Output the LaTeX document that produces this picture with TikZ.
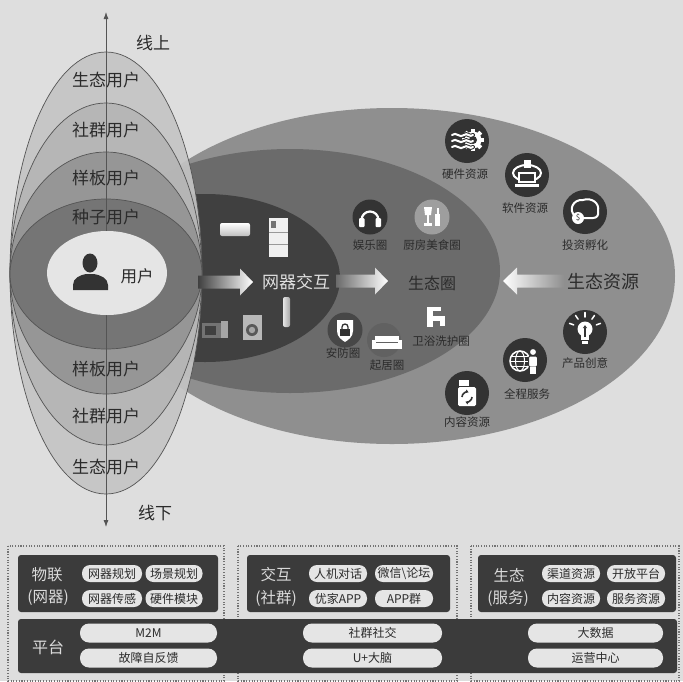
\documentclass[tikz,border=0pt]{standalone}
\usepackage{fontspec}
\setmainfont{Noto Sans CJK SC}
\usetikzlibrary{arrows.meta}
% grey palette
\definecolor{paper}{gray}{0.87}
\definecolor{ringA}{gray}{0.77}
\definecolor{ringB}{gray}{0.71}
\definecolor{ringC}{gray}{0.58}
\definecolor{ringD}{gray}{0.45}
\definecolor{userbg}{gray}{0.90}
\definecolor{resC}{gray}{0.56}
\definecolor{ecoC}{gray}{0.42}
\definecolor{netC}{gray}{0.25}
\definecolor{edge}{gray}{0.33}
\definecolor{ink}{gray}{0.17}
\definecolor{iconbg}{gray}{0.2}
\definecolor{panel}{gray}{0.23}
\definecolor{pillc}{gray}{0.9}
\definecolor{paneltxt}{gray}{0.86}
\definecolor{dotc}{gray}{0.45}

\begin{document}
\begin{tikzpicture}[x=1pt,y=-1pt,
  bigtxt/.style={font=\fontsize{17}{17}\selectfont, text=ink, inner sep=0pt},
  icotxt/.style={font=\fontsize{11.5}{12}\selectfont, text=ink, inner sep=0pt},
  ring/.style={draw=edge, line width=0.7pt, fill opacity=0.92},
  panelbox/.style={fill=panel, rounded corners=3pt},
  dotbox/.style={draw=dotc, line width=1.1pt, dash pattern=on 1.1pt off 1.6pt},
  pill/.style={fill=pillc, rounded corners=8pt, inner sep=0pt, minimum height=17pt,
    font=\fontsize{12}{12}\selectfont, text=ink},
  barpill/.style={pill, minimum height=19pt, rounded corners=9pt},
  paneltitle/.style={font=\fontsize{15.5}{16}\selectfont, text=paneltxt, inner sep=0pt},
  wave/.style={draw=iconbg, double=white, double distance=2pt, line width=1pt, line cap=round},
]
\useasboundingbox (0,0) rectangle (683,681);
\fill[paper] (0,0) rectangle (683,681);

% ---------- resource / ecosystem / device ellipses ----------
\fill[resC] (392,276) ellipse [x radius=283, y radius=168];
\fill[ecoC] (290,271) ellipse [x radius=210, y radius=122];
\fill[netC] (205,278) ellipse [x radius=135, y radius=84];

% ---------- user layers ----------
\filldraw[ring, fill=ringA] (106,273) ellipse [x radius=96, y radius=221];
\filldraw[ring, fill=ringB] (106,274) ellipse [x radius=96, y radius=171];
\filldraw[ring, fill=ringC] (106,273) ellipse [x radius=96, y radius=121];
\filldraw[ring, fill=ringD] (106,274) ellipse [x radius=96, y radius=75];

% online / offline axis
\coordinate (axTop) at (106,12);
\coordinate (axBot) at (106,527);
\draw[edge, line width=0.8pt, {Latex[length=7pt,width=5pt]}-{Latex[length=7pt,width=5pt]}] (axTop) -- (axBot);

% core user
\fill[userbg] (107,273) ellipse [x radius=60, y radius=42];
\fill[iconbg] (90,263) ellipse [x radius=7.5, y radius=9.5];
\fill[iconbg] (73,290) -- (73,285) .. controls (73,278) and (80,275) .. (86,274) -- (94,274)
  .. controls (100,275) and (108,278) .. (108,285) -- (108,290) -- cycle;

\node[bigtxt] (online)  at (153,43)  {线上};
\node[bigtxt] (offline) at (155,513) {线下};
\node[bigtxt] (u1) at (106,80)  {生态用户};
\node[bigtxt] (u2) at (106,130) {社群用户};
\node[bigtxt] (u3) at (106,178) {样板用户};
\node[bigtxt] (u4) at (106,217) {种子用户};
\node[bigtxt, font=\fontsize{16.5}{17}\selectfont] (user) at (137,276) {用户};
\node[bigtxt] (d3) at (106,369) {样板用户};
\node[bigtxt] (d2) at (106,416) {社群用户};
\node[bigtxt] (d1) at (106,467) {生态用户};

% ---------- appliances ----------
\shade[top color=white, bottom color=black!25, rounded corners=2pt] (220,223) rectangle (250,236);
\fill[black!6] (269,218) rectangle (288,257);
\draw[black!40, line width=0.5pt] (269,232) -- (288,232) (269,244) -- (288,244);
\fill[black!55] (271,221) rectangle (276,228);
\shade[left color=black!10, right color=black!35, rounded corners=2pt] (283,297) rectangle (290,327);
\fill[black!55] (202,323) rectangle (221,338);
\fill[black!35] (221,321) rectangle (228,338);
\fill[black!75] (205,326) rectangle (216,335);
\fill[black!28] (243,315) rectangle (262,340);
\fill[black!65] (252,330) circle (6);
\fill[black!35] (252,330) circle (3.2);

% ---------- flow arrows ----------
\shade[left color=netC, right color=white]
  (198,275.5) -- (240,275.5) -- (240,268.5) -- (253,282) -- (240,295.5) -- (240,288.5) -- (198,288.5) -- cycle;
\shade[left color=ecoC, right color=white]
  (336,274.5) -- (375,274.5) -- (375,267.5) -- (388,281) -- (375,294.5) -- (375,287.5) -- (336,287.5) -- cycle;
\shade[left color=white, right color=resC]
  (564,274.5) -- (517,274.5) -- (517,267.5) -- (503,281) -- (517,294.5) -- (517,287.5) -- (564,287.5) -- cycle;

\node[bigtxt, text=black!12] (net) at (296,282) {网器交互};
\node[bigtxt, font=\fontsize{16}{16}\selectfont] (eco) at (432,283) {生态圈};
\node[bigtxt, font=\fontsize{18}{18}\selectfont] (res) at (603,282) {生态资源};

% ---------- ecosystem circles ----------
% entertainment
\begin{scope}[shift={(370,217)}]
  \fill[iconbg] (0,0) circle (17.5);
  \draw[white, line width=2.2pt] (-8.5,3) arc[start angle=180, end angle=360, radius=8.5];
  \fill[white, rounded corners=1pt] (-11,1) rectangle (-5.5,10);
  \fill[white, rounded corners=1pt] (5.5,1) rectangle (11,10);
\end{scope}
\node[icotxt] (c1) at (370,245) {娱乐圈};
% kitchen
\begin{scope}[shift={(432,217)}]
  \fill[black!38] (0,0) circle (17.5);
  \fill[white] (-8,-10) -- (0,-10) -- (-1,-2) -- (-7,-2) -- cycle;
  \fill[white] (-4.8,-2) rectangle (-3.2,6);
  \fill[white] (-8,6) rectangle (0,8.5);
  \fill[white] (3,-3) rectangle (8,8.5);
  \fill[white] (4.5,-9) rectangle (6.5,-3);
\end{scope}
\node[icotxt] (c2) at (432,245) {厨房美食圈};
% bathroom
\fill[white] (427,307) rectangle (433,327);
\fill[white] (427,307) rectangle (441,311);
\fill[white] (433,316) rectangle (445,321);
\fill[white] (440,321) rectangle (445,326);
\node[icotxt] (c3) at (441,341) {卫浴洗护圈};
% security
\begin{scope}[shift={(345,330)}]
  \fill[black!72] (0,0) circle (17.5);
  \fill[white] (-8,-10) -- (8,-10) -- (8,1) .. controls (8,7) and (3,10) .. (0,12)
    .. controls (-3,10) and (-8,7) .. (-8,1) -- cycle;
  \draw[iconbg, line width=1.3pt] (-3,-1) -- (-3,-3) arc[start angle=180, end angle=360, radius=3] -- (3,-1);
  \fill[iconbg] (-5,-1) rectangle (5,6);
\end{scope}
\node[icotxt] (c4) at (343,353) {安防圈};
% living room
\fill[black!62] (384,340) circle (17);
\begin{scope}[shift={(387,342)}]
  \fill[white] (-12,-6) rectangle (12,0);
  \fill[white] (-15,-2) rectangle (-11,7);
  \fill[white] (11,-2) rectangle (15,7);
  \fill[white] (-11,1) rectangle (11,7);
\end{scope}
\node[icotxt] (c5) at (387,365) {起居圈};

% ---------- resource circles ----------
% hardware
\begin{scope}[shift={(467,141)}]
  \fill[iconbg] (0,0) circle (22);
  \begin{scope}[shift={(6,-1)}]
    \foreach \a in {0,45,...,315}{\fill[white, rotate=\a] (-2,-11) rectangle (2,-7);}
    \fill[white] (0,0) circle (8.5);
    \fill[iconbg] (0,0) circle (4);
  \end{scope}
  \foreach \dy in {-6,0,6}{
    \draw[wave] (-15,\dy) .. controls (-11,\dy-4) and (-7,\dy+4) .. (-3,\dy)
      .. controls (0,\dy-3) and (3,\dy+3) .. (6,\dy);}
\end{scope}
\node[icotxt] (r1) at (465,174) {硬件资源};
% software
\begin{scope}[shift={(527,175)}]
  \fill[iconbg] (0,0) circle (22);
  \draw[white, line width=2pt] (0,-2) ellipse [x radius=14, y radius=8];
  \fill[white] (-3.5,-15) rectangle (3.5,-7);
  \fill[white] (-9,-3) rectangle (9,8);
  \fill[iconbg] (-7,-1) rectangle (7,6);
  \fill[white] (-12,9) rectangle (12,12);
\end{scope}
\node[icotxt] (r2) at (525,208) {软件资源};
% investment
\begin{scope}[shift={(585,212)}]
  \fill[iconbg] (0,0) circle (22);
  \draw[white, line width=2pt, line join=round] (-10,4) .. controls (-17,-2) and (-12,-13) .. (-2,-12)
    .. controls (6,-15) and (15,-9) .. (13,-1) .. controls (14,3) and (12,6) .. (8,6) -- (-3,6);
  \fill[white] (-7,6) circle (6);
  \node[font=\fontsize{8}{8}\selectfont, text=iconbg, inner sep=0pt] (coin) at (-7,6) {\$};
\end{scope}
\node[icotxt] (r3) at (585,245) {投资孵化};
% ideas
\begin{scope}[shift={(585,332)}]
  \fill[iconbg] (0,0) circle (22);
  \foreach \a in {-160,-125,-90,-55,-20}{
    \draw[white, line width=1.5pt, line cap=round] ([shift={(0,-3)}]\a:12) -- ([shift={(0,-3)}]\a:16.5);}
  \fill[white] (0,-3) circle (7.5);
  \fill[white] (-4,2) rectangle (4,8);
  \fill[white] (-3,9) rectangle (3,11.5);
  \draw[iconbg, line width=1.5pt, -{Latex[length=3pt,width=4.5pt]}] (0,5) -- (0,-7);
\end{scope}
\node[icotxt] (r4) at (585,363) {产品创意};
% full service
\begin{scope}[shift={(525,360)}]
  \fill[iconbg] (0,0) circle (22);
  \draw[white, line width=1.5pt] (-5,1) circle (10);
  \draw[white, line width=1pt] (-5,1) ellipse [x radius=4.5, y radius=10];
  \draw[white, line width=1pt] (-15,1) -- (5,1) (-14,-4) -- (4,-4) (-14,6) -- (4,6);
  \filldraw[white, draw=iconbg, line width=1pt] (8,-8) circle (3.6);
  \filldraw[white, draw=iconbg, line width=1pt, rounded corners=1.5pt] (3.5,-4) rectangle (12.5,7);
  \fill[white] (5,7) rectangle (11,14);
\end{scope}
\node[icotxt] (r5) at (527,394) {全程服务};
% content
\begin{scope}[shift={(467,393)}]
  \fill[iconbg] (0,0) circle (22);
  \fill[white] (-8,-13) rectangle (2,-7);
  \fill[white, rounded corners=1.5pt] (-9,-6) rectangle (9,13);
  \draw[iconbg, line width=1.6pt, -{Latex[length=3pt,width=4pt]}] (-5,4) arc[start angle=180, end angle=290, radius=5];
  \draw[iconbg, line width=1.6pt, -{Latex[length=3pt,width=4pt]}] (5,4) arc[start angle=0, end angle=110, radius=5];
\end{scope}
\node[icotxt] (r6) at (467,422) {内容资源};

% ---------- layered platform panels ----------
\draw[dotbox] (8,546) rectangle (224,681);
\draw[dotbox] (238,546) rectangle (457,681);
\draw[dotbox] (471,546) rectangle (679,681);

\fill[panelbox] (18,555) rectangle (218,612);
\fill[panelbox] (247,555) rectangle (450,612);
\fill[panelbox] (478,555) rectangle (676,612);
\fill[panelbox] (18,619) rectangle (677,673);

\node[paneltitle] (iotA) at (47,575) {物联};
\node[paneltitle] (iotB) at (48,598) {(网器)};
\node[pill, minimum width=60pt] (p11) at (112,573.5) {网器规划};
\node[pill, minimum width=57pt] (p12) at (174,573.5) {场景规划};
\node[pill, minimum width=60pt] (p13) at (112,598.5) {网器传感};
\node[pill, minimum width=57pt] (p14) at (174,598.5) {硬件模块};

\node[paneltitle] (itA) at (276,575) {交互};
\node[paneltitle] (itB) at (276,598) {(社群)};
\node[pill, minimum width=58pt] (p21) at (338,573.5) {人机对话};
\node[pill, minimum width=58pt] (p22) at (404,573.5) {微信\textbackslash 论坛};
\node[pill, minimum width=58pt] (p23) at (338,598.5) {优家APP};
\node[pill, minimum width=58pt] (p24) at (404,598.5) {APP群};

\node[paneltitle] (svA) at (509,575) {生态};
\node[paneltitle] (svB) at (508,598) {(服务)};
\node[pill, minimum width=58pt] (p31) at (571,573.5) {渠道资源};
\node[pill, minimum width=58pt] (p32) at (636,573.5) {开放平台};
\node[pill, minimum width=58pt] (p33) at (571,598.5) {内容资源};
\node[pill, minimum width=58pt] (p34) at (636,598.5) {服务资源};

\node[paneltitle, font=\fontsize{16}{16}\selectfont] (plat) at (48,647) {平台};
\node[barpill, minimum width=137pt] (b11) at (148.5,633) {M2M};
\node[barpill, minimum width=137pt] (b12) at (148.5,658) {故障自反馈};
\node[barpill, minimum width=139pt] (b21) at (372.5,633) {社群社交};
\node[barpill, minimum width=139pt] (b22) at (372.5,658) {U+大脑};
\node[barpill, minimum width=135pt] (b31) at (595.5,633) {大数据};
\node[barpill, minimum width=135pt] (b32) at (595.5,658) {运营中心};
\end{tikzpicture}
\end{document}
